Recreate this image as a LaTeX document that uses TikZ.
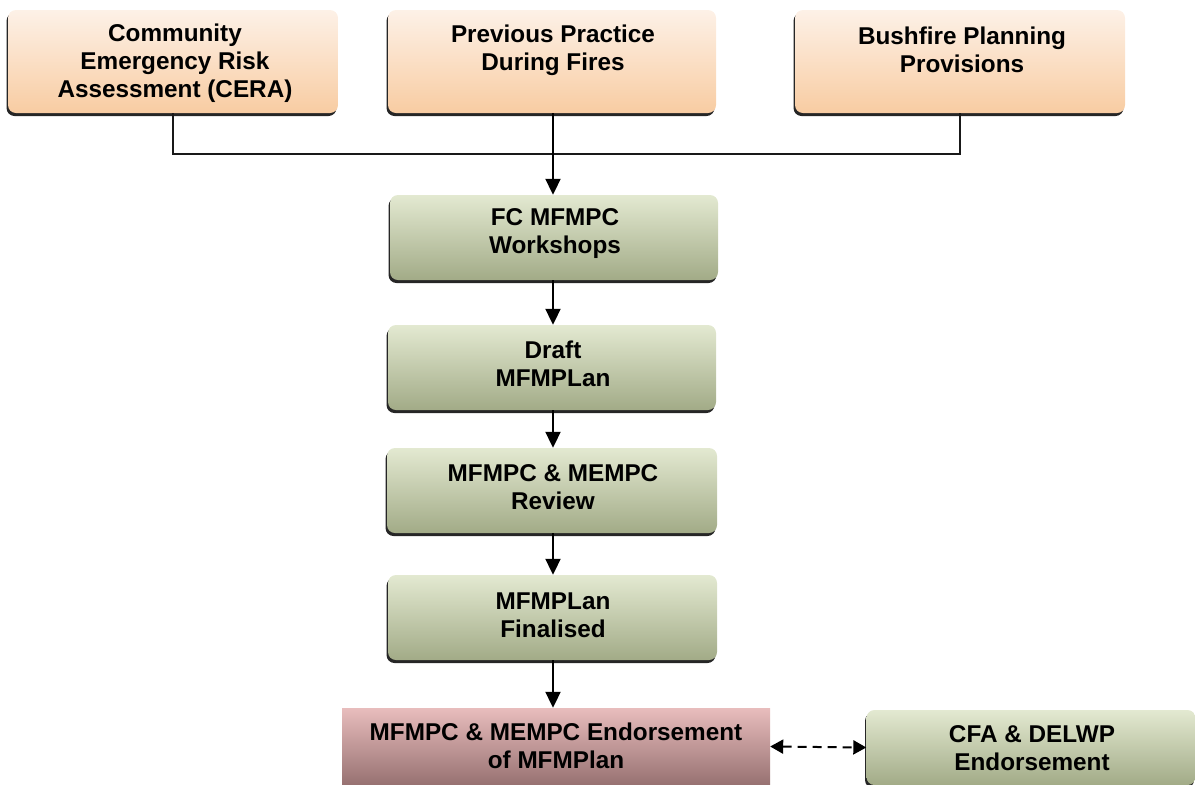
\documentclass[tikz,border=0pt]{standalone}
\usepackage{fontspec}
\setmainfont{Liberation Sans}
\usetikzlibrary{arrows.meta,shadows}
\definecolor{peachtop}{HTML}{FDF1E7}
\definecolor{peachbot}{HTML}{F8CCA2}
\definecolor{greentop}{HTML}{E3E9D1}
\definecolor{greenbot}{HTML}{A2AB87}
\definecolor{pinktop}{HTML}{E8BDBD}
\definecolor{pinkbot}{HTML}{977171}
\begin{document}
\begin{tikzpicture}[x=1pt,y=-1pt,
  boxbase/.style={rectangle, draw=none, inner sep=0pt},
  shad/.style={drop shadow={shadow xshift=-1.5pt, shadow yshift=-3pt, fill=black!85, opacity=1}},
  peach/.style={boxbase, rounded corners=8pt, top color=peachtop, bottom color=peachbot, shad},
  green/.style={boxbase, rounded corners=8pt, top color=greentop, bottom color=greenbot, shad},
  pink/.style={boxbase, top color=pinktop, bottom color=pinkbot},
  txt/.style={align=center, font=\fontsize{24.3}{28}\selectfont\bfseries, inner sep=0pt},
  conn/.style={line width=1.6pt, black!90},
  arr/.style={line width=2pt, -{Triangle[width=15pt,length=16pt]}},
  darr/.style={line width=2pt, dash pattern=on 9pt off 6pt, {Triangle[width=14pt,length=13pt]}-{Triangle[width=14pt,length=13pt]}}
]
\useasboundingbox (0,0) rectangle (1195,785);
% top boxes
\node[peach, minimum width=330pt, minimum height=103pt] (cera) at (173,61.5) {};
\node[txt] (ceratxt) at (175,63) {Community\\Emergency Risk\\Assessment (CERA)};
\node[peach, minimum width=328pt, minimum height=103pt] (prev) at (552,61.5) {};
\node[txt] (prevtxt) at (553,50) {Previous Practice\\During Fires};
\node[peach, minimum width=330pt, minimum height=103pt] (bush) at (960,61.5) {};
\node[txt] (bushtxt) at (962,50) {Bushfire Planning\\Provisions};
% chain
\node[green, minimum width=328pt, minimum height=85pt] (fc) at (554,237.5) {};
\node[txt] (fctxt) at (555,234) {FC MFMPC\\Workshops};
\node[green, minimum width=328pt, minimum height=85pt] (draft) at (552,367.5) {};
\node[txt] (drafttxt) at (553,364) {Draft\\MFMPLan};
\node[green, minimum width=330pt, minimum height=85pt] (review) at (552,490.5) {};
\node[txt] (reviewtxt) at (553,487) {MFMPC \& MEMPC\\Review};
\node[green, minimum width=329pt, minimum height=85pt] (final) at (552.5,617.5) {};
\node[txt] (finaltxt) at (553,615) {MFMPLan\\Finalised};
\node[pink, minimum width=428pt, minimum height=77pt] (endo) at (556,746.5) {};
\node[txt] (endotxt) at (556,746) {MFMPC \& MEMPC Endorsement\\of MFMPlan};
\node[green, minimum width=329pt, minimum height=75pt] (cfa) at (1031,747.5) {};
\node[txt] (cfatxt) at (1032,748) {CFA \& DELWP\\Endorsement};
% connectors
\coordinate (jl) at (173,154);
\coordinate (jr) at (960,154);
\coordinate (ax) at (553,0);
\draw[conn] (cera.south) -- (jl) -- (jr) -- (bush.south);
\draw[arr] (ax |- prev.south) -- (ax |- fc.north);
\draw[arr] (ax |- fc.south) -- (ax |- draft.north);
\draw[arr] (ax |- draft.south) -- (ax |- review.north);
\draw[arr] (ax |- review.south) -- (ax |- final.north);
\draw[arr] (ax |- final.south) -- (ax |- endo.north);
\draw[darr] (endo.east) -- (cfa.west);
\end{tikzpicture}
\end{document}
